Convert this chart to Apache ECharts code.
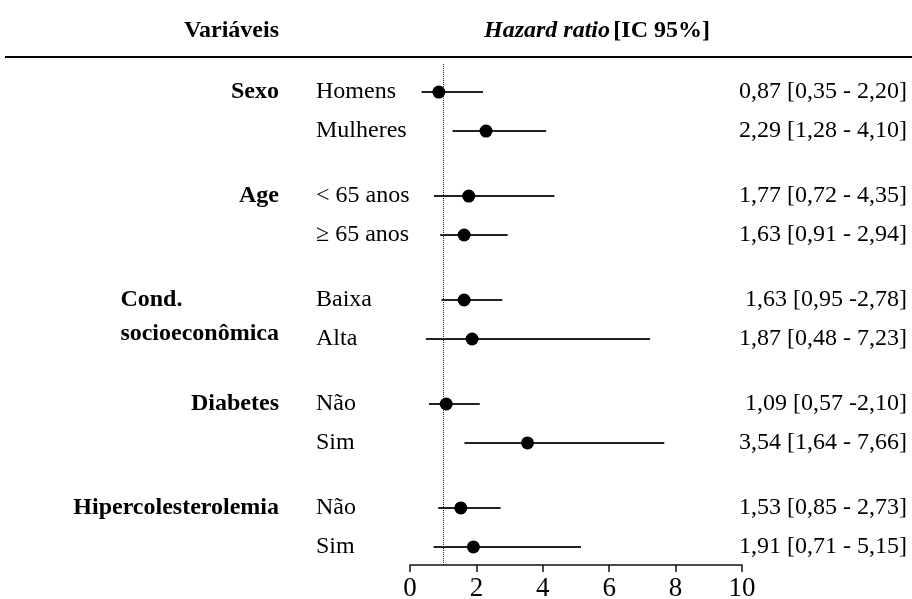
<!DOCTYPE html>
<html>
<head>
<meta charset="utf-8">
<script src="https://cdn.jsdelivr.net/npm/echarts@6/dist/echarts.min.js"></script>
<style>html,body{margin:0;padding:0;background:#fff}#c{width:912px;height:599px}</style>
</head>
<body>
<div id="c"></div>
<script>
const groups = ['Sexo', 'Age', 'Cond.\nsocioeconômica', 'Diabetes', 'Hipercolesterolemia'];
const groupOf = [0, 0, 1, 1, 2, 2, 3, 3, 4, 4];
const subLabels = ['Homens', 'Mulheres', '< 65 anos', '≥ 65 anos', 'Baixa', 'Alta', 'Não', 'Sim', 'Não', 'Sim'];
const hr = [0.87, 2.29, 1.77, 1.63, 1.63, 1.87, 1.09, 3.54, 1.53, 1.91];
const ciLow = [0.35, 1.28, 0.72, 0.91, 0.95, 0.48, 0.57, 1.64, 0.85, 0.71];
const ciHigh = [2.20, 4.10, 4.35, 2.94, 2.78, 7.23, 2.10, 7.66, 2.73, 5.15];
const ciText = ['0,87 [0,35 - 2,20]', '2,29 [1,28 - 4,10]', '1,77 [0,72 - 4,35]', '1,63 [0,91 - 2,94]',
  '1,63 [0,95 -2,78]', '1,87 [0,48 - 7,23]', '1,09 [0,57 -2,10]', '3,54 [1,64 - 7,66]',
  '1,53 [0,85 - 2,73]', '1,91 [0,71 - 5,15]'];
const xTicks = [0, 2, 4, 6, 8, 10];
const refValue = 1;

const FONT = '"Liberation Serif", "Times New Roman", serif';
const rowPos = hr.map((v, i) => i + groupOf[i] * (2 / 3));

const measure = (() => {
  const ctx = document.createElement('canvas').getContext('2d');
  return (t) => { ctx.font = 'bold 24px ' + FONT; return ctx.measureText(t).width; };
})();

const chart = echarts.init(document.getElementById('c'), null, { renderer: 'canvas' });

const groupFirst = {};
groupOf.forEach((g, i) => { if (groupFirst[g] === undefined) groupFirst[g] = i; });

chart.setOption({
  animation: false,
  backgroundColor: '#fff',
  grid: { left: 410, right: 170, top: 64, bottom: 34, containLabel: false, outerBoundsMode: 'none' },
  xAxis: {
    type: 'value', min: 0, max: 10, interval: 2,
    axisLine: { show: true, onZero: false, lineStyle: { color: '#111', width: 1.5 } },
    axisTick: { show: true, length: 7, inside: false, lineStyle: { color: '#111', width: 1.5 } },
    axisLabel: { color: '#000', fontFamily: FONT, fontSize: 27, margin: 10,
      formatter: (v) => xTicks.includes(v) ? String(v) : '' },
    splitLine: { show: false }
  },
  yAxis: { type: 'value', inverse: true, min: -0.72, max: 12.13, show: false },
  graphic: [
    { type: 'text', x: 279, y: 31,
      style: { text: 'Variáveis', align: 'right', verticalAlign: 'middle',
        font: 'bold 24px ' + FONT, fill: '#000' } },
    { type: 'text', x: 597, y: 31,
      style: { text: '{i|Hazard ratio} {b|[IC 95%]}', align: 'center', verticalAlign: 'middle',
        rich: { i: { fontStyle: 'italic', fontWeight: 'bold', fontSize: 24, fontFamily: FONT, fill: '#000' },
                b: { fontWeight: 'bold', fontSize: 24, fontFamily: FONT, fill: '#000' } } } },
    { type: 'line', shape: { x1: 5, y1: 57, x2: 912, y2: 57 }, style: { stroke: '#000', lineWidth: 2 } }
  ],
  series: [
    {
      type: 'custom', clip: false, z: 2,
      data: hr.map((v, i) => [ciLow[i], ciHigh[i], rowPos[i], i]),
      renderItem: (params, api) => {
        const a = api.coord([api.value(0), api.value(2)]);
        const b = api.coord([api.value(1), api.value(2)]);
        return { type: 'line', shape: { x1: a[0], y1: a[1], x2: b[0], y2: b[1] },
          style: { stroke: '#222', lineWidth: 2 } };
      }
    },
    {
      type: 'scatter', z: 3, symbol: 'circle', symbolSize: 13,
      itemStyle: { color: '#000', opacity: 1 },
      data: hr.map((v, i) => [v, rowPos[i]]),
      markLine: {
        silent: true, symbol: 'none', label: { show: false },
        lineStyle: { type: 'dotted', color: '#222', width: 1 },
        data: [{ xAxis: refValue }]
      }
    },
    {
      type: 'custom', clip: false, z: 4,
      data: hr.map((v, i) => [v, rowPos[i], i]),
      renderItem: (params, api) => {
        const i = api.value(2);
        const p = api.coord([0, api.value(1)]);
        const cs = params.coordSys;
        const children = [
          { type: 'text', style: { text: subLabels[i], x: cs.x - 94, y: p[1], align: 'left', verticalAlign: 'middle',
              font: '24px ' + FONT, fill: '#000' } },
          { type: 'text', style: { text: ciText[i], x: cs.x + cs.width + 165, y: p[1], align: 'right', verticalAlign: 'middle',
              font: '24px ' + FONT, fill: '#000' } }
        ];
        const g = groupOf[i];
        if (groupFirst[g] === i) {
          const lines = groups[g].split('\n');
          const right = cs.x - 131;
          if (lines.length === 1) {
            children.push({ type: 'text', style: { text: lines[0], x: right, y: p[1], align: 'right', verticalAlign: 'middle',
              font: 'bold 24px ' + FONT, fill: '#000' } });
          } else {
            const w = Math.max(...lines.map(measure));
            lines.forEach((t, k) => children.push({ type: 'text', style: { text: t, x: right - w, y: p[1] + k * 34,
              align: 'left', verticalAlign: 'middle', font: 'bold 24px ' + FONT, fill: '#000' } }));
          }
        }
        return { type: 'group', children };
      }
    }
  ]
});
</script>
</body>
</html>
